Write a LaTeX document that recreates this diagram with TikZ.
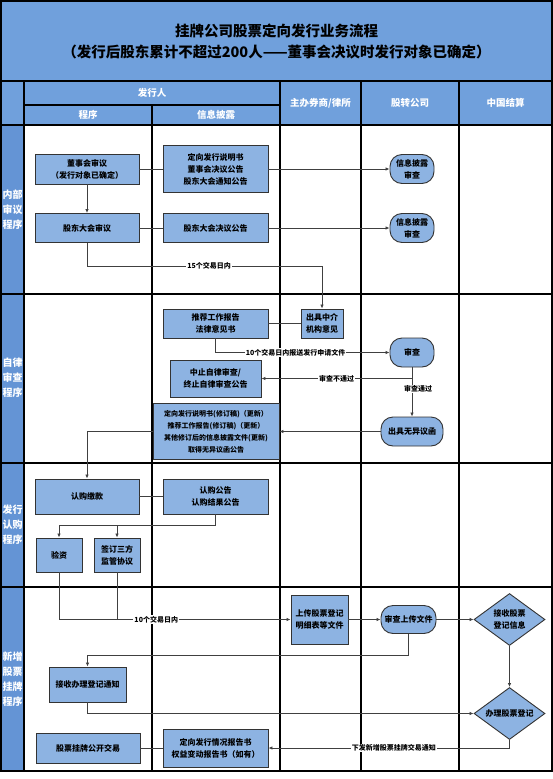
\documentclass[tikz,border=0pt]{standalone}
\usepackage{fontspec}
\setmainfont{Noto Sans CJK SC}
\usetikzlibrary{arrows.meta,positioning,calc,shapes.geometric}
\definecolor{bandblue}{RGB}{112,160,220}
\definecolor{laneblue}{RGB}{100,148,213}
\definecolor{boxblue}{RGB}{141,179,226}

\begin{document}
\begin{tikzpicture}[
    x=1pt, y=-1pt,
    grid/.style={draw=black, line width=1.1pt},
    box/.style={rectangle, draw=black!80, fill=boxblue, line width=0.9pt, align=center, inner sep=1pt, font=\fontsize{8}{12}\selectfont\bfseries},
    rbox/.style={box, rounded corners=12pt},
    dia/.style={diamond, aspect=1.37, draw=black!80, fill=boxblue, line width=0.9pt, align=center, inner sep=0pt, minimum width=71pt, minimum height=52pt, font=\fontsize{8}{12}\selectfont\bfseries},
    head/.style={text=white, font=\fontsize{9.5}{11}\selectfont\bfseries},
    lane/.style={text=white, align=center, font=\fontsize{10}{15}\selectfont\bfseries},
    lbl/.style={fill=white, inner sep=1pt, font=\fontsize{7}{8}\selectfont\bfseries},
    ln/.style={draw=black!75, line width=0.8pt},
    arr/.style={ln, -{Latex[length=4pt, width=3.5pt]}},
]
    \useasboundingbox (0,0) rectangle (553,779);

    % table background and lines
    \fill[bandblue] (1,1) rectangle (552,125);
    \fill[laneblue] (1,125) rectangle (24,771);
    \draw[grid] (1,1) rectangle (552,771);
    \draw[grid] (1,81) -- (552,81);
    \draw[grid] (24,105) -- (280,105);
    \draw[grid] (1,125) -- (552,125);
    \draw[grid] (1,294) -- (552,294);
    \draw[grid] (1,463) -- (552,463);
    \draw[grid] (1,587) -- (552,587);
    \draw[grid] (24,81) -- (24,771);
    \draw[grid] (152,105) -- (152,771);
    \draw[grid] (280,81) -- (280,771);
    \draw[grid] (361,81) -- (361,771);
    \draw[grid] (459,81) -- (459,771);

    % title and headers
    \node[align=center, font=\fontsize{14.5}{21}\selectfont\bfseries] (title) at (276.5,42)
        {挂牌公司股票定向发行业务流程\\（发行后股东累计不超过200人——董事会决议时发行对象已确定）};
    \node[head] (hfxr) at (152,93) {发行人};
    \node[head] (hcx) at (88,115) {程序};
    \node[head] (hxxpl) at (216,115) {信息披露};
    \node[head] (hqs) at (320.5,103) {主办券商/律所};
    \node[head] (hgz) at (410,103) {股转公司};
    \node[head] (hjs) at (505.5,103) {中国结算};

    \node[lane] (lane1) at (12.5,210) {内部\\审议\\程序};
    \node[lane] (lane2) at (12.5,378) {自律\\审查\\程序};
    \node[lane] (lane3) at (12.5,525) {发行\\认购\\程序};
    \node[lane] (lane4) at (12.5,679) {新增\\股票\\挂牌\\程序};

    % 内部审议程序
    \node[box, minimum width=104pt, minimum height=30pt] (dshsy) at (87,169) {董事会审议\\（发行对象已确定）};
    \node[box, minimum width=105pt, minimum height=47pt] (dxsms) at (215.5,169) {定向发行说明书\\董事会决议公告\\股东大会通知公告};
    \node[rbox, minimum width=44pt, minimum height=29pt] (xxpl1) at (412,169) {信息披露\\审查};
    \node[box, minimum width=104pt, minimum height=29pt] (gdhsy) at (87,228) {股东大会审议};
    \node[box, minimum width=105pt, minimum height=29pt] (gdhgg) at (215.5,228) {股东大会决议公告};
    \node[rbox, minimum width=44pt, minimum height=29pt] (xxpl2) at (412,228) {信息披露\\审查};

    \draw[ln] (dshsy.east) -- (dxsms.west);
    \draw[arr] (dxsms.east) -- (xxpl1.west);
    \draw[arr] (dshsy.south) -- (gdhsy.north);
    \draw[ln] (gdhsy.east) -- (gdhgg.west);
    \draw[arr] (gdhgg.east) -- (xxpl2.west);

    % 自律审查程序
    \node[box, minimum width=105pt, minimum height=29pt] (tjbg) at (215.5,323.5) {推荐工作报告\\法律意见书};
    \node[box, minimum width=42pt, minimum height=29pt] (zjyj) at (322,323.5) {出具中介\\机构意见};
    \node[rbox, minimum width=44pt, minimum height=29pt] (shencha) at (412,352.5) {审查};
    \node[box, minimum width=91pt, minimum height=37pt] (zhongzhi) at (215.5,378.5) {中止自律审查/\\终止自律审查公告};
    \node[rbox, minimum width=62pt, minimum height=29pt] (wyyh) at (412,431.5) {出具无异议函};
    \node[box, minimum width=126pt, minimum height=56pt, font=\fontsize{7}{12}\selectfont\bfseries] (xdgg) at (216,431.5)
        {定向发行说明书(修订稿)（更新）\\推荐工作报告(修订稿)（更新）\\其他修订后的信息披露文件(更新)\\取得无异议函公告};

    \coordinate (t1) at (322,266);
    \draw[arr] (gdhsy.south) |- node[lbl, pos=0.76] {15个交易日内} (t1) -- (zjyj.north);
    \draw[ln] (tjbg.east) -- (zjyj.west);
    \draw[arr] (tjbg.south) |- node[lbl, pos=0.73] {10个交易日内报送发行申请文件} (shencha.west);
    \draw[arr] (shencha.south) -- node[lbl, xshift=6pt, yshift=3pt] {审查通过} (wyyh.north);
    \coordinate (b1) at ($(shencha.south)+(0,11)$);
    \draw[arr] (b1) -- node[lbl, pos=0.5] {审查不通过} (zhongzhi.east);
    \draw[arr] (wyyh.west) -- (xdgg.east);

    % 发行认购程序
    \node[box, minimum width=104pt, minimum height=35pt] (rjkk) at (87,496.5) {认购缴款};
    \node[box, minimum width=105pt, minimum height=35pt] (rjgg) at (215.5,496.5) {认购公告\\认购结果公告};
    \node[box, minimum width=46pt, minimum height=34pt] (yanzi) at (59,555) {验资};
    \node[box, minimum width=46pt, minimum height=34pt] (jgxy) at (117,555) {签订三方\\监管协议};

    \draw[arr] (xdgg.west) -| (rjkk.north);
    \draw[ln] (rjkk.east) -- (rjgg.west);
    \draw[arr] (rjgg.south) -- ++(0,11) -| (yanzi.north);
    \coordinate (f1) at (117,525);
    \draw[arr] (f1) -- (jgxy.north);

    % 新增股票挂牌程序
    \node[box, minimum width=57pt, minimum height=49pt] (scdj) at (319.5,619.5) {上传股票登记\\明细表等文件};
    \node[rbox, minimum width=55pt, minimum height=28pt] (shsc) at (408.5,619.5) {审查上传文件};
    \node[dia] (jsdj) at (509.5,619.5) {接收股票\\登记信息};
    \node[box, minimum width=77pt, minimum height=35pt] (jstz) at (87.5,684.5) {接收办理登记通知};
    \node[dia] (bldj) at (509.5,713.5) {办理股票登记};
    \node[box, minimum width=105pt, minimum height=38pt] (fxqk) at (215.5,748) {定向发行情况报告书\\权益变动报告书（如有）};
    \node[box, minimum width=104pt, minimum height=30pt] (gpjy) at (88,748) {股票挂牌公开交易};

    \draw[arr] (yanzi.south) |- node[lbl, pos=0.71] {10个交易日内} (scdj.west);
    \draw[ln] (jgxy.south) -- (jgxy.south |- scdj.west);
    \draw[arr] (scdj.east) -- (shsc.west);
    \draw[arr] (shsc.east) -- (jsdj.west);
    \draw[arr] (shsc.south) -- ++(0,21) -| (jstz.north);
    \draw[arr] (jstz.south) |- (bldj.west);
    \draw[arr] (jsdj.south) -- (bldj.north);
    \draw[arr] (bldj.south) |- node[lbl, pos=0.74] {下发新增股票挂牌交易通知} (fxqk.east);
    \draw[ln] (gpjy.east) -- (fxqk.west);
\end{tikzpicture}
\end{document}
